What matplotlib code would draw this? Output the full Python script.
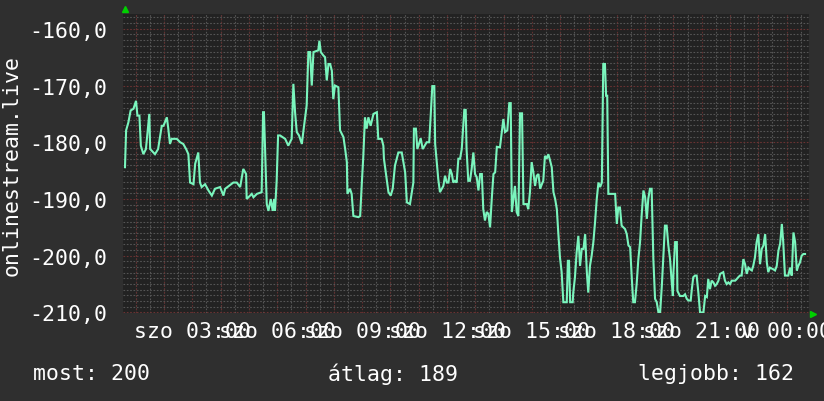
import matplotlib
matplotlib.use("Agg")
import matplotlib.pyplot as plt
from matplotlib.ticker import MultipleLocator, FixedLocator, FuncFormatter

# ora (szombat 00:00-tol), jelszint
orak = [0.62, 0.66, 0.74, 0.82, 0.92, 1.01, 1.06, 1.13, 1.18, 1.27, 1.36, 1.48, 1.51, 1.68, 1.79,
        1.92, 1.98, 2.10, 2.15, 2.21, 2.27, 2.45, 2.57, 2.68, 2.78, 2.86, 2.92, 3.04, 3.10, 3.21,
        3.27, 3.33, 3.45, 3.57, 3.69, 3.80, 3.98, 4.10, 4.16, 4.45, 4.57, 4.69, 4.80, 4.90, 4.92,
        5.10, 5.16, 5.28, 5.45, 5.50, 5.53, 5.57, 5.63, 5.69, 5.77, 5.84, 5.89, 5.92, 5.98, 6.03,
        6.10, 6.28, 6.39, 6.51, 6.57, 6.63, 6.69, 6.77, 6.87, 6.92, 7.04, 7.10, 7.16, 7.22, 7.28,
        7.45, 7.49, 7.54, 7.63, 7.69, 7.75, 7.81, 7.87, 7.93, 7.98, 8.04, 8.16, 8.22, 8.34, 8.40,
        8.46, 8.48, 8.57, 8.63, 8.69, 8.87, 8.93, 8.99, 9.04, 9.10, 9.16, 9.22, 9.30, 9.40, 9.52,
        9.57, 9.69, 9.75, 9.77, 9.87, 9.93, 10.01, 10.08, 10.16, 10.28, 10.40, 10.52, 10.58, 10.69, 10.81,
        10.83, 10.90, 10.95, 11.07, 11.14, 11.28, 11.37, 11.48, 11.55, 11.58, 11.69, 11.75, 11.87, 11.93, 11.99,
        12.05, 12.11, 12.17, 12.22, 12.28, 12.34, 12.40, 12.46, 12.52, 12.61, 12.66, 12.69, 12.75, 12.81, 12.87,
        12.93, 12.99, 13.05, 13.11, 13.17, 13.23, 13.28, 13.34, 13.40, 13.46, 13.52, 13.58, 13.64, 13.70, 13.76,
        13.87, 13.99, 14.05, 14.13, 14.20, 14.25, 14.29, 14.40, 14.46, 14.52, 14.58, 14.65, 14.70, 14.82, 14.87,
        14.93, 14.99, 15.05, 15.11, 15.17, 15.23, 15.29, 15.35, 15.40, 15.46, 15.52, 15.58, 15.64, 15.70, 15.76,
        15.82, 15.88, 15.93, 15.99, 16.05, 16.11, 16.23, 16.27, 16.31, 16.35, 16.44, 16.46, 16.52, 16.58, 16.64,
        16.70, 16.76, 16.82, 16.88, 16.94, 16.99, 17.05, 17.11, 17.17, 17.23, 17.29, 17.35, 17.41, 17.47, 17.52,
        17.58, 17.62, 17.66, 17.70, 17.88, 17.94, 18.00, 18.05, 18.11, 18.17, 18.29, 18.35, 18.41, 18.47, 18.53,
        18.58, 18.64, 18.70, 18.76, 18.82, 18.88, 18.94, 19.00, 19.06, 19.11, 19.17, 19.23, 19.29, 19.35, 19.41,
        19.47, 19.53, 19.59, 19.64, 19.70, 19.76, 19.82, 19.88, 19.94, 19.98, 20.00, 20.06, 20.12, 20.14, 20.23,
        20.35, 20.41, 20.47, 20.53, 20.61, 20.65, 20.70, 20.76, 20.82, 20.88, 20.94, 21.06, 21.12, 21.18, 21.23,
        21.29, 21.35, 21.41, 21.47, 21.53, 21.59, 21.65, 21.76, 21.82, 21.88, 21.94, 22.00, 22.06, 22.18, 22.24,
        22.29, 22.35, 22.41, 22.47, 22.53, 22.59, 22.65, 22.71, 22.77, 22.82, 22.88, 22.94, 23.00, 23.06, 23.12,
        23.18, 23.24, 23.30, 23.35, 23.41, 23.53, 23.59, 23.65, 23.71, 23.77, 23.83, 23.88, 23.94, 24.06, 24.12,
        24.18, 24.24, 24.30, 24.36, 24.41, 24.47, 24.53, 24.59, 24.65]
jel = [-184.4, -177.9, -176.5, -174.4, -174.1, -172.7, -175.3, -175.3, -180.6, -182.1, -181.2, -175.0, -181.2, -182.1, -181.2,
       -177.1, -177.1, -175.6, -177.6, -180.3, -179.4, -179.4, -180.0, -180.3, -181.2, -182.1, -187.1, -187.4, -183.8, -181.8,
       -187.1, -187.9, -187.4, -188.5, -189.4, -188.2, -187.9, -189.4, -188.2, -187.1, -187.1, -187.9, -184.7, -185.6, -190.0,
       -189.1, -189.7, -189.1, -188.8, -174.7, -174.7, -181.2, -190.9, -192.1, -190.0, -192.1, -190.0, -192.1, -186.8, -178.8,
       -178.8, -179.4, -180.6, -179.4, -169.7, -174.7, -178.2, -178.8, -180.3, -178.2, -173.5, -164.1, -164.1, -170.0, -164.1,
       -163.8, -162.1, -164.1, -164.7, -165.0, -169.1, -166.2, -166.2, -167.4, -172.4, -170.0, -170.3, -177.9, -179.1, -181.2,
       -183.5, -189.1, -188.2, -189.1, -193.0, -193.2, -193.0, -187.1, -182.6, -175.6, -177.6, -175.6, -177.1, -175.0, -174.7,
       -179.4, -179.4, -180.6, -182.9, -186.5, -188.8, -189.4, -188.2, -184.1, -181.8, -181.8, -185.3, -190.6, -190.9, -187.1,
       -177.6, -177.6, -181.2, -179.3, -181.2, -180.0, -180.0, -170.1, -170.1, -180.3, -186.5, -188.8, -187.7, -185.9, -187.1,
       -187.1, -184.7, -185.6, -187.1, -186.8, -187.1, -182.9, -182.9, -181.2, -174.3, -174.3, -181.2, -186.8, -186.8, -184.7,
       -181.8, -185.6, -186.2, -188.5, -185.6, -185.6, -191.8, -193.8, -192.3, -192.6, -195.0, -190.0, -185.6, -185.3, -180.8,
       -180.9, -175.9, -178.2, -177.9, -173.1, -173.1, -192.3, -187.7, -192.3, -193.0, -174.9, -174.9, -190.9, -190.9, -191.8,
       -188.8, -183.5, -185.3, -187.7, -185.9, -185.6, -188.2, -187.4, -186.8, -182.4, -182.9, -182.1, -183.2, -184.4, -188.8,
       -190.0, -191.8, -195.9, -200.3, -202.9, -208.2, -208.2, -200.9, -200.9, -208.2, -208.2, -206.5, -203.8, -199.4, -196.5,
       -201.8, -198.8, -198.8, -196.2, -202.9, -206.5, -201.8, -200.0, -197.6, -194.1, -190.0, -187.1, -187.9, -187.1, -166.2,
       -166.2, -171.8, -171.8, -189.1, -189.1, -189.1, -194.4, -191.5, -191.5, -194.7, -195.3, -196.2, -198.2, -198.5, -204.1,
       -208.2, -208.2, -205.0, -200.6, -197.6, -192.6, -188.5, -189.7, -193.5, -190.0, -188.2, -188.2, -200.6, -207.6, -208.2,
       -210.0, -210.0, -205.3, -200.6, -194.7, -194.7, -198.2, -200.6, -204.7, -207.1, -202.9, -197.6, -197.6, -206.2, -207.1,
       -207.1, -206.8, -207.6, -207.9, -207.9, -205.9, -203.8, -203.5, -203.5, -206.5, -210.0, -210.0, -207.1, -207.3, -204.1,
       -205.9, -204.4, -204.7, -205.3, -205.0, -204.4, -203.2, -202.9, -204.4, -205.0, -204.7, -205.0, -204.4, -204.4, -204.1,
       -203.8, -203.5, -203.5, -200.6, -201.5, -203.2, -202.1, -202.4, -202.6, -201.8, -200.3, -197.6, -196.2, -201.5, -198.8,
       -198.2, -196.2, -201.2, -202.9, -202.1, -202.4, -202.6, -201.8, -199.1, -197.9, -194.4, -197.6, -203.5, -203.5, -202.1,
       -203.5, -195.9, -197.6, -202.6, -201.8, -201.2, -200.0, -199.7, -199.7]

ido_tickek = [3, 6, 9, 12, 15, 18, 21, 24]
ido_cimkek = ["szo 03:00", "szo 06:00", "szo 09:00", "szo 12:00", "szo 15:00",
              "szo 18:00", "szo 21:00", "v 00:00"]
nev = "onlinestream.live"
most, atlag, legjobb = 200, 189, 162

hatter = '#2f2f2f'
fig = plt.figure(figsize=(8.24, 4.02), dpi=100, facecolor=hatter)
ax = fig.add_axes([123/824, 88/402, 686/824, 299.5/402])
ax.set_facecolor('#222222')
for s in ax.spines.values():
    s.set_visible(False)

ax.plot(orak, jel, color='#7af5bd', lw=1.5, solid_joinstyle='miter')

ax.set_xlim(0.55, 24.79)
ax.set_ylim(-210.1, -157.3)

# racs: szurke 30 percenkent / egysegenkent, piros orankent / 10 egysegenkent
ax.xaxis.set_minor_locator(MultipleLocator(0.5))
ax.yaxis.set_minor_locator(MultipleLocator(1))
ax.xaxis.set_major_locator(FixedLocator(ido_tickek))
ax.yaxis.set_major_locator(MultipleLocator(10))
ax.grid(which='minor', color='#555555', lw=0.8, ls=(0, (1.5, 1.5)))
for h in range(1, 25):
    ax.axvline(h, color='#623030', lw=0.8, ls=(0, (1.5, 1.5)), zorder=0.6)
for v in range(-210, -155, 10):
    ax.axhline(v, color='#6a3232', lw=0.8, ls=(0, (1.5, 1.5)), zorder=0.6)
ax.set_axisbelow(True)

ax.set_xticks(ido_tickek)
ax.set_xticklabels(ido_cimkek)
ax.yaxis.set_major_formatter(FuncFormatter(lambda v, p: ("%.1f" % v).replace('.', ',')))
ax.tick_params(which='both', length=0, colors='white')
ax.tick_params(axis='x', pad=6)
ax.tick_params(axis='y', pad=11)
for t in ax.get_xticklabels() + ax.get_yticklabels():
    t.set_fontfamily('DejaVu Sans Mono')
    t.set_fontsize(15.5)

# nyilak
ax.plot([0.003], [1.016], marker='^', color='#00d000', ms=5, transform=ax.transAxes, clip_on=False)
ax.plot([1.006], [-0.003], marker='>', color='#00d000', ms=5, transform=ax.transAxes, clip_on=False)

fig.text(12/824, 1 - 165/402, nev, rotation=90, color='white', family='DejaVu Sans Mono',
         fontsize=15.5, ha='center', va='center')

fig.text(33/824, 1 - 374/402, "most: %d" % most, color='white', family='DejaVu Sans Mono',
         fontsize=15.5, ha='left', va='center')
fig.text(328/824, 1 - 374/402, "átlag: %d" % atlag, color='white', family='DejaVu Sans Mono',
         fontsize=15.5, ha='left', va='center')
fig.text(638/824, 1 - 374/402, "legjobb: %d" % legjobb, color='white', family='DejaVu Sans Mono',
         fontsize=15.5, ha='left', va='center')

fig.savefig("out.png", dpi=100, facecolor=hatter)
